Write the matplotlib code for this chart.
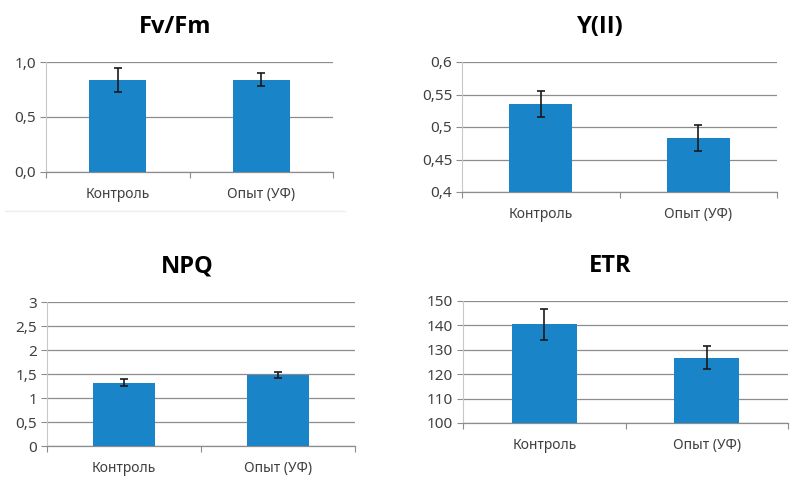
"""Четыре панели: Fv/Fm, Y(II), NPQ, ETR — контроль и опыт (УФ)"""
import matplotlib
matplotlib.use("Agg")
import matplotlib.pyplot as plt
from matplotlib.lines import Line2D
from matplotlib.ticker import FuncFormatter

categories = ["Контроль", "Опыт (УФ)"]

fvfm_values = [0.84, 0.84]
fvfm_errors = [0.11, 0.06]

y2_values = [0.535, 0.483]
y2_errors = [0.020, 0.020]

npq_values = [1.32, 1.48]
npq_errors = [0.07, 0.07]

etr_values = [140.4, 126.7]
etr_errors = [6.2, 4.7]

plt.rcParams['font.family'] = ['Noto Sans', 'DejaVu Sans']

BAR_COLOR = '#1a84c8'
GRID_COLOR = '#8c8c8c'
TEXT_COLOR = '#404040'

W, H = 809, 493
fig = plt.figure(figsize=(W / 100, H / 100), dpi=100)


def px_axes(left, top, right, bottom):
    # пиксельные координаты -> доли фигуры
    return fig.add_axes([left / W, 1 - bottom / H, (right - left) / W, (bottom - top) / H])


def comma(fmt):
    return FuncFormatter(lambda v, _: fmt.format(v).replace('.', ','))


def panel(rect, title, values, errors, ylim, step, fmt, title_xy):
    ax = px_axes(*rect)
    x = range(len(categories))
    ax.bar(x, [v - ylim[0] for v in values], bottom=ylim[0], width=0.4,
           color=BAR_COLOR, zorder=3)
    ax.errorbar(x, values, yerr=errors, fmt='none', ecolor='#1a1a1a',
                elinewidth=1.2, capsize=3, capthick=1.2, zorder=4)
    ax.set_xlim(-0.5, len(categories) - 0.5)
    ax.set_ylim(*ylim)
    n = int(round((ylim[1] - ylim[0]) / step))
    ticks = [ylim[0] + i * step for i in range(n + 1)]
    ax.set_yticks(ticks)
    ax.yaxis.set_major_formatter(comma(fmt))
    ax.yaxis.grid(True, color=GRID_COLOR, linewidth=0.9, zorder=0)
    # границы категорий — большие деления, подписи — на малых
    ax.set_xticks([0.5 * i - 0.5 for i in range(2 * len(categories) + 1)][::2])
    ax.set_xticks(list(x), minor=True)
    ax.set_xticklabels([])
    ax.set_xticklabels(categories, minor=True)
    ax.tick_params(axis='x', which='major', length=4, color=GRID_COLOR, direction='out')
    ax.tick_params(axis='x', which='minor', length=0, pad=11, labelsize=10,
                   labelcolor=TEXT_COLOR)
    ax.tick_params(axis='y', length=4, color=GRID_COLOR, labelsize=11,
                   labelcolor=TEXT_COLOR, pad=3)
    for s in ('top', 'right'):
        ax.spines[s].set_visible(False)
    ax.spines['left'].set_color('#c8c8c8')
    ax.spines['bottom'].set_color(GRID_COLOR)
    ax.spines['bottom'].set_linewidth(0.9)
    fig.text(title_xy[0] / W, 1 - title_xy[1] / H, title, ha='center', va='center',
             fontsize=17, fontweight='bold', family=['Open Sans', 'DejaVu Sans'],
             color='#000000')
    return ax


panel((46, 62, 333, 172), 'Fv/Fm', fvfm_values, fvfm_errors, (0, 1.0), 0.5, '{:.1f}', (175, 27))
panel((462, 62, 777, 192), 'Y(II)', y2_values, y2_errors, (0.4, 0.6), 0.05, '{:g}', (600, 27))
panel((47, 302, 355, 446), 'NPQ', npq_values, npq_errors, (0, 3), 0.5, '{:g}', (187, 266))
panel((463, 301, 788, 423), 'ETR', etr_values, etr_errors, (100, 150), 10, '{:g}', (610, 266))

# еле заметная рамка под первой диаграммой
fig.add_artist(Line2D([5 / W, 345 / W], [1 - 211 / H] * 2, color='#eeeeee', linewidth=1))

fig.savefig('out.png', dpi=100)
